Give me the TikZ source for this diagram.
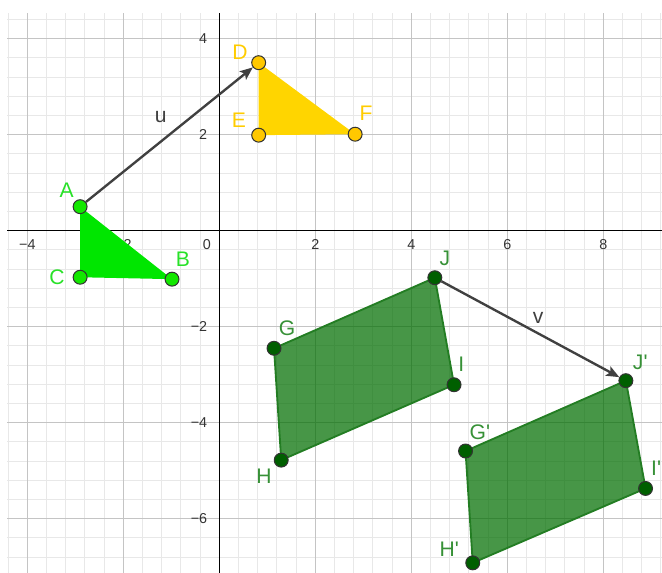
\documentclass[tikz,border=0pt]{standalone}
\usepackage{fontspec}
\setmainfont{Liberation Sans}
\usetikzlibrary{arrows.meta}
\definecolor{gridminor}{RGB}{232,232,232}
\definecolor{gridmajor}{RGB}{196,196,196}
\definecolor{brightgreen}{RGB}{0,230,0}
\definecolor{labelgreen}{RGB}{40,225,40}
\definecolor{goldfill}{RGB}{255,213,0}
\definecolor{goldlabel}{RGB}{255,204,0}
\definecolor{darkfill}{RGB}{0,110,0}
\definecolor{darkedge}{RGB}{35,125,35}
\definecolor{darkpt}{RGB}{0,95,0}
\definecolor{darklabel}{RGB}{55,145,55}
\definecolor{vecgray}{RGB}{64,64,64}

\begin{document}
\begin{tikzpicture}[
    pt/.style={circle, draw=black!80, line width=0.6pt, inner sep=0pt, minimum size=0.29cm},
    lab/.style={font=\fontsize{12.5}{14}\selectfont},
    tick/.style={font=\fontsize{8.5}{10}\selectfont, text=black!80},
    vec/.style={-{Stealth[length=0.27cm,width=0.22cm,inset=0.06cm]}, vecgray, line width=1.4pt},
    polyedge/.style={line width=1.1pt, line join=round}
]
    \useasboundingbox (-4.569,-7.131) rectangle (9.223,4.806);

    % grid and axes
    \begin{scope}
        \clip (-4.42,-7.131) rectangle (9.223,4.535);
        \draw[gridminor, line width=0.5pt, step=0.4] (-4.8,-7.6) grid (9.6,4.8);
        \draw[gridmajor, line width=0.8pt, step=2] (-4.8,-7.6) grid (9.6,4.8);
    \end{scope}
    \draw[black, line width=0.9pt] (-4.42,0) -- (9.223,0);
    \draw[black, line width=0.9pt] (0,-7.131) -- (0,4.535);

    \foreach \x/\t in {-4/−4, -2/−2, 2/2, 4/4, 6/6, 8/8}
        \node[tick] (xt\x) at (\x,-0.28) {\t};
    \foreach \y/\t in {4/4, 2/2, -2/−2, -4/−4, -6/−6}
        \node[tick, anchor=east] (yt\y) at (-0.13,\y) {\t};
    \node[tick] (orig) at (-0.26,-0.28) {0};

    % points
    \coordinate (A) at (-2.9,0.5);
    \coordinate (B) at (-0.985,-1.01);
    \coordinate (C) at (-2.9,-0.97);
    \coordinate (D) at (0.82,3.5);
    \coordinate (E) at (0.82,1.99);
    \coordinate (F) at (2.83,2.01);
    \coordinate (G) at (1.14,-2.45);
    \coordinate (H) at (1.29,-4.78);
    \coordinate (I) at (4.89,-3.21);
    \coordinate (J) at (4.49,-0.98);
    \coordinate (Gp) at (5.13,-4.59);
    \coordinate (Hp) at (5.28,-6.92);
    \coordinate (Ip) at (8.88,-5.37);
    \coordinate (Jp) at (8.47,-3.125);

    % shapes
    \fill[brightgreen] (A) -- (B) -- (C) -- cycle;
    \fill[goldfill] (D) -- (E) -- (F) -- cycle;
    \filldraw[polyedge, draw=darkedge, fill=darkfill, fill opacity=0.72] (G) -- (H) -- (I) -- (J) -- cycle;
    \filldraw[polyedge, draw=darkedge, fill=darkfill, fill opacity=0.72] (Gp) -- (Hp) -- (Ip) -- (Jp) -- cycle;

    \foreach \p in {A,B,C}
        \node[pt, fill=brightgreen!90!lime] (n\p) at (\p) {};
    \foreach \p in {D,E,F}
        \node[pt, fill=goldfill!85!orange] (n\p) at (\p) {};
    \foreach \p in {G,H,I,J,Gp,Hp,Ip,Jp}
        \node[pt, fill=darkpt] (n\p) at (\p) {};

    % vectors
    \draw[vec] (nA) -- (nD);
    \draw[vec] (nJ) -- (nJp);

    % labels
    \node[lab, text=labelgreen] (lA) at (-3.18,0.85) {A};
    \node[lab, text=labelgreen] (lB) at (-0.76,-0.59) {B};
    \node[lab, text=labelgreen] (lC) at (-3.38,-0.96) {C};
    \node[lab, text=goldlabel] (lD) at (0.43,3.72) {D};
    \node[lab, text=goldlabel] (lE) at (0.41,2.31) {E};
    \node[lab, text=goldlabel] (lF) at (3.06,2.45) {F};
    \node[lab, text=vecgray] (lu) at (-1.22,2.37) {u};
    \node[lab, text=vecgray] (lv) at (6.64,-1.82) {v};
    \node[lab, text=darklabel] (lG) at (1.41,-2.03) {G};
    \node[lab, text=darklabel] (lH) at (0.93,-5.11) {H};
    \node[lab, text=darklabel] (lI) at (5.04,-2.78) {I};
    \node[lab, text=darklabel] (lJ) at (4.70,-0.58) {J};
    \node[lab, text=darklabel] (lGp) at (5.43,-4.19) {G\textquotesingle};
    \node[lab, text=darklabel] (lHp) at (4.79,-6.63) {H\textquotesingle};
    \node[lab, text=darklabel] (lIp) at (9.10,-4.94) {I\textquotesingle};
    \node[lab, text=darklabel] (lJp) at (8.77,-2.74) {J\textquotesingle};
\end{tikzpicture}
\end{document}
